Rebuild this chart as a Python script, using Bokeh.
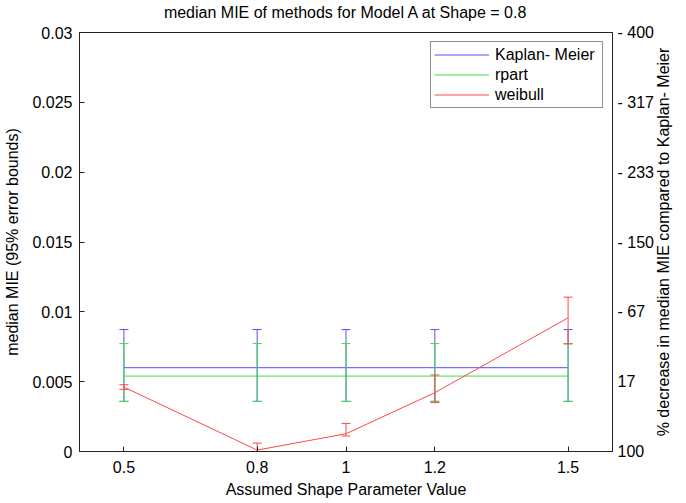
import math
from bokeh.plotting import figure
from bokeh.models import (ColumnDataSource, Whisker, TeeHead, Range1d, LinearAxis,
                          FixedTicker, Legend, LegendItem)
from bokeh.embed import file_html
from bokeh.resources import INLINE

# ---- data ----
shape_values = [0.5, 0.8, 1.0, 1.2, 1.5]

km_median = [0.0060, 0.0060, 0.0060, 0.0060, 0.0060]
km_upper = [0.00873, 0.00873, 0.00873, 0.00873, 0.00873]
km_lower = [0.00359, 0.00359, 0.00359, 0.00359, 0.00359]

rpart_median = [0.0054, 0.0054, 0.0054, 0.0054, 0.0054]
rpart_upper = [0.00773, 0.00773, 0.00773, 0.00773, 0.00773]
rpart_lower = [0.00359, 0.00359, 0.00359, 0.00359, 0.00359]

weibull_median = [0.00461, 0.0001, 0.00127, 0.00421, 0.00957]
weibull_upper = [0.00478, 0.0006, 0.00201, 0.00548, 0.01105]
weibull_lower = [0.00445, 0.0, 0.00111, 0.00350, 0.00770]

x_ticks = [0.5, 0.8, 1.0, 1.2, 1.5]
x_tick_labels = ["0.5", "0.8", "1", "1.2", "1.5"]
y_ticks = [0, 0.005, 0.01, 0.015, 0.02, 0.025, 0.03]
y_tick_labels = ["0", "0.005", "0.01", "0.015", "0.02", "0.025", "0.03"]
pct_ticks = [100, 16.667, -66.667, -150, -233.333, -316.667, -400]
pct_tick_labels = ["100", "17", "- 67", "- 150", "- 233", "- 317", "- 400"]

series_names = ["Kaplan- Meier", "rpart", "weibull"]
series_colors = ["#5050ff", "#44e044", "#ff4848"]

FONT = "Liberation Sans"
FS = "16px"
TITLE = "median MIE of methods for Model A at Shape = 0.8"
RIGHT_LABEL = "% decrease in median MIE compared to Kaplan- Meier"

X_START, X_END = 0.4, 1.6
FRAME_W, FRAME_H = 533, 419
PCT_START, PCT_END = 100, -400

p = figure(frame_width=FRAME_W, frame_height=FRAME_H,
           x_range=Range1d(X_START, X_END), y_range=Range1d(0, 0.03),
           output_backend="svg", toolbar_location=None,
           min_border_left=79, min_border_right=70, min_border_top=32, min_border_bottom=52)
try:
    p.title = None
except Exception:
    p.title.visible = False

p.xgrid.visible = False
p.ygrid.visible = False
p.outline_line_color = "#222222"
p.outline_line_width = 1
p.background_fill_color = "white"
p.border_fill_color = "white"

xa = p.xaxis[0]
xa.ticker = FixedTicker(ticks=x_ticks)
xa.major_label_overrides = dict(zip(x_ticks, x_tick_labels))
xa.axis_label = "Assumed Shape Parameter Value"
ya = p.yaxis[0]
ya.ticker = FixedTicker(ticks=y_ticks)
ya.major_label_overrides = dict(zip(y_ticks, y_tick_labels))
ya.axis_label = "median MIE (95% error bounds)"

p.extra_y_ranges = {"pct": Range1d(start=PCT_START, end=PCT_END)}
ra = LinearAxis(y_range_name="pct")
ra.ticker = FixedTicker(ticks=pct_ticks)
ra.major_label_overrides = dict(zip(pct_ticks, pct_tick_labels))
ra.major_tick_line_color = None

for ax in (xa, ya, ra):
    ax.major_tick_in = 5
    ax.major_tick_out = 0
    ax.minor_tick_line_color = None
    ax.axis_line_color = "#222222"
    ax.major_label_text_font = FONT
    ax.major_label_text_font_size = FS
    ax.major_label_text_color = "black"
    ax.axis_label_text_font = FONT
    ax.axis_label_text_font_size = FS
    ax.axis_label_text_font_style = "normal"
    ax.axis_label_text_color = "black"
xa.major_tick_line_color = "#222222"
ya.major_tick_line_color = "#222222"
xa.major_label_standoff = 9
xa.axis_label_standoff = 5
ya.major_label_standoff = 7
ya.axis_label_standoff = 8
ra.major_label_standoff = 5
p.add_layout(ra, "right")


def label_only_axis(axis):
    axis.major_tick_in = 0
    axis.major_tick_out = 0
    axis.minor_tick_in = 0
    axis.minor_tick_out = 0
    axis.axis_line_color = None
    axis.major_tick_line_color = None
    axis.minor_tick_line_color = None
    axis.major_label_text_font = FONT
    axis.major_label_text_font_size = FS
    axis.major_label_text_color = "black"


# right-hand title, reading bottom-to-top: a label-only axis whose single
# label starts so that the text is centred on the frame
text_len_px = 24.29 * 16            # approx. width of RIGHT_LABEL at 16px
pct_per_px = (PCT_START - PCT_END) / FRAME_H
pct_mid = (PCT_START + PCT_END) / 2
label_anchor = round(pct_mid + (text_len_px / 2) * pct_per_px, 3)
ra2 = LinearAxis(y_range_name="pct")
ra2.ticker = FixedTicker(ticks=[label_anchor])
ra2.major_label_overrides = {label_anchor: RIGHT_LABEL}
ra2.major_label_orientation = math.pi / 2
ra2.major_label_standoff = 7
label_only_axis(ra2)
p.add_layout(ra2, "right")

# chart title as a label-only axis above the frame (centred on the frame)
title_anchor = (X_START + X_END) / 2
ta = LinearAxis()
ta.ticker = FixedTicker(ticks=[title_anchor])
ta.major_label_overrides = {title_anchor: TITLE}
ta.major_label_standoff = 12
label_only_axis(ta)
p.add_layout(ta, "above")

medians = [km_median, rpart_median, weibull_median]
uppers = [km_upper, rpart_upper, weibull_upper]
lowers = [km_lower, rpart_lower, weibull_lower]

items = []
for name, color, med, up, lo in zip(series_names, series_colors, medians, uppers, lowers):
    src = ColumnDataSource(dict(x=shape_values, med=med, upper=up, lower=lo))
    w = Whisker(source=src, base="x", upper="upper", lower="lower",
                line_color=color, line_width=1, level="glyph",
                upper_head=TeeHead(size=9, line_color=color, line_width=1),
                lower_head=TeeHead(size=9, line_color=color, line_width=1))
    p.add_layout(w)
    r = p.line("x", "med", source=src, line_color=color, line_width=1)
    items.append(LegendItem(label=name, renderers=[r]))

legend = Legend(items=items, location="top_right")
legend.label_text_font = FONT
legend.label_text_font_size = FS
legend.label_text_color = "black"
legend.glyph_width = 55
legend.glyph_height = 19
legend.label_height = 19
legend.label_width = 104
legend.spacing = 1
legend.padding = 3
legend.margin = 9
legend.label_standoff = 6
legend.border_line_color = "#222222"
legend.border_line_width = 1
legend.background_fill_alpha = 1.0
p.add_layout(legend)

open("out.html", "w").write(file_html(p, INLINE))
